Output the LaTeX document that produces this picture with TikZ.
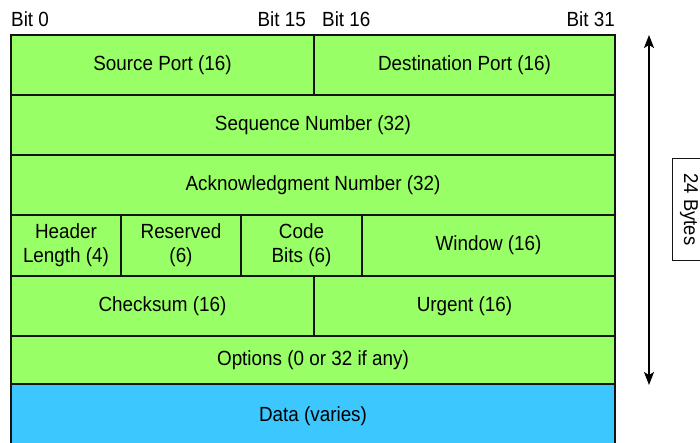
\documentclass[tikz,border=0pt]{standalone}
\usepackage{fontspec}
\setmainfont{Liberation Sans}[FakeStretch=0.92]
\usetikzlibrary{arrows.meta}
\definecolor{fgreen}{RGB}{153,255,102}
\definecolor{fblue}{RGB}{60,200,255}
\definecolor{fline}{RGB}{20,20,20}
\begin{document}
\begin{tikzpicture}[x=1pt,y=-1pt,
  field/.style={draw=fline, line width=1.2pt, fill=fgreen, anchor=north west,
    inner sep=0pt, outer sep=0pt, align=center,
    font=\fontsize{20.5}{24}\selectfont},
  datafield/.style={field, fill=fblue},
  bitlabel/.style={font=\fontsize{20.5}{22}\selectfont, inner sep=0pt},
  sizearrow/.style={line width=1.5pt, {Stealth[length=13pt,width=10pt,inset=3pt]}-{Stealth[length=13pt,width=10pt,inset=3pt]}}]
\useasboundingbox (0,0) rectangle (700,443);
\clip (0,0) rectangle (700,443);
% bit labels
\node[bitlabel, anchor=base west] (b0) at (11,27) {Bit 0};
\node[bitlabel, anchor=base east] (b15) at (306,27) {Bit 15};
\node[bitlabel, anchor=base west] (b16) at (322,27) {Bit 16};
\node[bitlabel, anchor=base east] (b31) at (615,27) {Bit 31};
% data (drawn first so green row borders on top)
\node[datafield, minimum width=604, minimum height=64] (data) at (11,384) {Data (varies)};
% rows
\node[field, minimum width=303, minimum height=60] (src) at (11,35) {Source Port (16)};
\node[field, minimum width=301, minimum height=60] (dst) at (314,35) {Destination Port (16)};
\node[field, minimum width=604, minimum height=60] (seq) at (11,95) {Sequence Number (32)};
\node[field, minimum width=604, minimum height=60] (ack) at (11,155) {Acknowledgment Number (32)};
\node[field, minimum width=110, minimum height=61] (hlen) at (11,215) {Header\\Length (4)};
\node[field, minimum width=120, minimum height=61] (res) at (121,215) {Reserved\\(6)};
\node[field, minimum width=121, minimum height=61] (code) at (241,215) {Code\\Bits (6)};
\node[field, minimum width=253, minimum height=61] (win) at (362,215) {Window (16)};
\node[field, minimum width=303, minimum height=60] (chk) at (11,276) {Checksum (16)};
\node[field, minimum width=301, minimum height=60] (urg) at (314,276) {Urgent (16)};
\node[field, minimum width=604, minimum height=48] (opt) at (11,336) {Options (0 or 32 if any)};
% size arrow
\coordinate (atop) at (649,35);
\coordinate (abot) at (649,385);
\draw[sizearrow] (atop) -- (abot);
\node[draw=fline, line width=1pt, fill=white, rotate=-90, minimum width=101, minimum height=34,
  inner sep=0pt, font=\fontsize{20}{22}\selectfont] (bytes) at (689,209.5) {24 Bytes};
\end{tikzpicture}
\end{document}
